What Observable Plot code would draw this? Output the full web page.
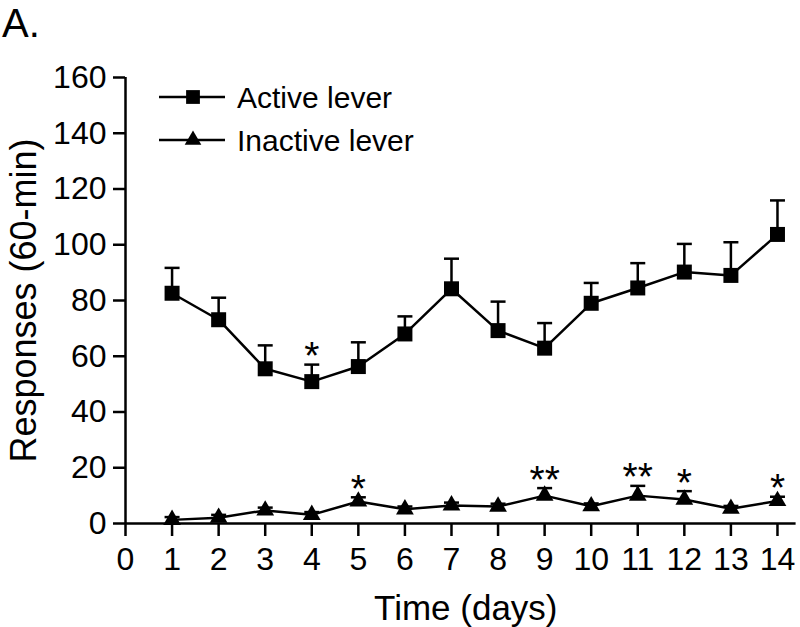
<!DOCTYPE html>
<html>
<head>
<meta charset="utf-8">
<script src="https://cdn.jsdelivr.net/npm/d3@7"></script>
<script src="https://cdn.jsdelivr.net/npm/@observablehq/plot@0.6"></script>
<style>
  html, body { margin: 0; padding: 0; background: #fff; }
  #chart { position: relative; width: 800px; height: 627px; }
</style>
</head>
<body>
<div id="chart"></div>
<script>
// ---- data ----
const days = [1, 2, 3, 4, 5, 6, 7, 8, 9, 10, 11, 12, 13, 14];
const activeMean = [82.6, 73.1, 55.5, 50.9, 56.3, 68.0, 84.2, 69.2, 62.9, 79.0, 84.5, 90.2, 89.0, 103.7];
const activeSem  = [9.1, 7.9, 8.4, 6.1, 8.7, 6.3, 10.8, 10.4, 9.0, 7.3, 8.9, 10.1, 11.9, 12.2];
const activeStars = ["", "", "", "*", "", "", "", "", "", "", "", "", "", ""];
const inactiveMean = [1.3, 2.1, 4.7, 3.1, 7.9, 5.1, 6.5, 6.1, 10.0, 6.2, 10.0, 8.6, 5.3, 8.1];
const inactiveSem  = [1.0, 1.0, 1.0, 1.0, 1.5, 1.0, 1.0, 1.0, 2.7, 1.0, 3.5, 3.0, 1.0, 1.5];
const inactiveStars = ["", "", "", "", "*", "", "", "", "**", "", "**", "*", "", "*"];
const xTicks = [0, 1, 2, 3, 4, 5, 6, 7, 8, 9, 10, 11, 12, 13, 14];
const yTicks = [0, 20, 40, 60, 80, 100, 120, 140, 160];
const seriesNames = ["Active lever", "Inactive lever"];
const xLabel = "Time (days)";
const yLabel = "Responses (60-min)";
const panelLabel = "A.";

const active = days.map((d, i) => ({day: d, mean: activeMean[i], sem: activeSem[i], star: activeStars[i]}));
const inactive = days.map((d, i) => ({day: d, mean: inactiveMean[i], sem: inactiveSem[i], star: inactiveStars[i]}));

const FONT = "'Liberation Sans', Arial, Helvetica, sans-serif";
const SW = 2.5;

// horizontal cap symbol for error bars
const capSymbol = {
  draw(context, size) {
    const w = Math.sqrt(size);
    context.moveTo(-w / 2, 0);
    context.lineTo(w / 2, 0);
  }
};

function seriesMarks(rows, symbol, r) {
  return [
    Plot.ruleX(rows, {x: "day", y1: "mean", y2: d => d.mean + d.sem, stroke: "black", strokeWidth: SW}),
    Plot.dot(rows, {x: "day", y: d => d.mean + d.sem, symbol: capSymbol, r: 8.46, stroke: "black", fill: "none", strokeWidth: SW}),
    Plot.line(rows, {x: "day", y: "mean", stroke: "black", strokeWidth: SW}),
    Plot.dot(rows, {x: "day", y: "mean", symbol, r, fill: "black", stroke: "none"}),
    Plot.text(rows.filter(d => d.star), {x: "day", y: d => d.mean + d.sem, text: "star", fontSize: 39, lineAnchor: "middle", textAnchor: "middle", dy: -8, fill: "black"})
  ];
}

const plot = Plot.plot({
  width: 800,
  height: 627,
  marginLeft: 125,
  marginRight: 4.4,
  marginTop: 77,
  marginBottom: 104,
  style: {fontFamily: FONT, fontSize: "32px", color: "black", background: "white"},
  x: {domain: [0, 14.4], label: null},
  y: {domain: [0, 160], label: null},
  marks: [
    Plot.axisX({ticks: xTicks, tickSize: 13, tickPadding: 11, tickFormat: d => String(d), strokeWidth: SW, fontSize: 32, label: null}),
    Plot.axisY({ticks: yTicks, tickSize: 12, tickPadding: 7, tickFormat: d => String(d), strokeWidth: SW, fontSize: 32, label: null}),
    Plot.ruleY([0], {stroke: "black", strokeWidth: SW}),
    Plot.ruleX([0], {stroke: "black", strokeWidth: SW}),
    ...seriesMarks(active, "square", 8.46),
    ...seriesMarks(inactive, "triangle", 6.6),
    Plot.text([xLabel], {frameAnchor: "bottom", text: d => d, fontSize: 35, lineAnchor: "top", textAnchor: "middle", dx: 5, dy: 72}),
    Plot.text([yLabel], {frameAnchor: "left", text: d => d, fontSize: 36, rotate: -90, lineAnchor: "top", textAnchor: "middle", dx: -115})
  ]
});

document.getElementById("chart").appendChild(plot);

// panel letter and legend drawn on top of the svg
const svg = d3.select(plot);
svg.append("text")
  .attr("x", 2).attr("y", 37)
  .attr("text-anchor", "start")
  .attr("font-family", FONT).attr("font-size", 40)
  .attr("fill", "black")
  .text(panelLabel);

const legend = svg.append("g").attr("font-family", FONT).attr("text-anchor", "start");
const legendSymbols = [d3.symbolSquare, d3.symbolTriangle];
const legendSizes = [190, 120];
seriesNames.forEach((name, i) => {
  const cy = 97 + i * 43;
  legend.append("line")
    .attr("x1", 159).attr("x2", 225).attr("y1", cy).attr("y2", cy)
    .attr("stroke", "black").attr("stroke-width", SW);
  legend.append("path")
    .attr("d", d3.symbol(legendSymbols[i], legendSizes[i])())
    .attr("transform", `translate(193,${cy})`)
    .attr("fill", "black");
  legend.append("text")
    .attr("x", 237).attr("y", cy + 11)
    .attr("font-size", 30)
    .attr("fill", "black")
    .text(name);
});
</script>
</body>
</html>
